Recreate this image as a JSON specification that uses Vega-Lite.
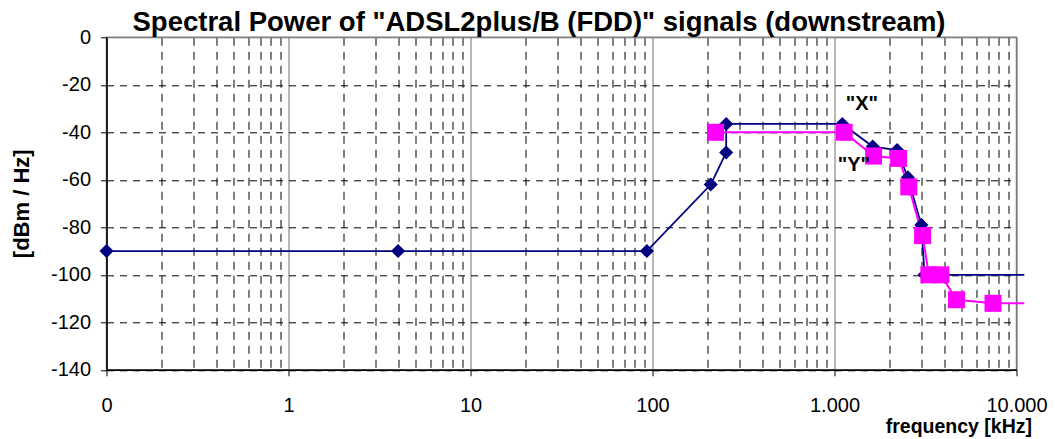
{
  "$schema": "https://vega.github.io/schema/vega-lite/v6.json",
  "width": 910,
  "height": 332.5,
  "autosize": {"type": "none"},
  "padding": {"left": 106.5, "top": 37.3, "right": 38.5, "bottom": 69.2},
  "background": "white",
  "config": {
    "font": "Liberation Sans",
    "view": {"stroke": "#808080", "strokeWidth": 1.5}
  },
  "title": {
    "text": "Spectral Power of \"ADSL2plus/B (FDD)\" signals (downstream)",
    "fontSize": 27.5,
    "fontWeight": "bold",
    "color": "#000000",
    "anchor": "middle",
    "frame": "group",
    "dx": -22.5,
    "baseline": "bottom",
    "offset": -37
  },
  "datasets": {
    "mask": [
      {"series": "X", "idx": 1, "freq": 0.1, "dbm": -90},
      {"series": "X", "idx": 2, "freq": 4, "dbm": -90},
      {"series": "X", "idx": 3, "freq": 93.1, "dbm": -90},
      {"series": "X", "idx": 4, "freq": 209, "dbm": -62},
      {"series": "X", "idx": 5, "freq": 254, "dbm": -48.5},
      {"series": "X", "idx": 6, "freq": 254, "dbm": -36.5},
      {"series": "X", "idx": 7, "freq": 1104, "dbm": -36.5},
      {"series": "X", "idx": 8, "freq": 1622, "dbm": -46},
      {"series": "X", "idx": 9, "freq": 2208, "dbm": -47.5},
      {"series": "X", "idx": 10, "freq": 2530, "dbm": -59},
      {"series": "X", "idx": 11, "freq": 3001, "dbm": -79},
      {"series": "X", "idx": 12, "freq": 3125, "dbm": -100},
      {"series": "X", "idx": 13, "freq": 11040, "dbm": -100},
      {"series": "Y", "idx": 1, "freq": 222, "dbm": -40},
      {"series": "Y", "idx": 2, "freq": 1130, "dbm": -40},
      {"series": "Y", "idx": 3, "freq": 1640, "dbm": -50},
      {"series": "Y", "idx": 4, "freq": 2250, "dbm": -51},
      {"series": "Y", "idx": 5, "freq": 2560, "dbm": -63},
      {"series": "Y", "idx": 6, "freq": 3048, "dbm": -83.5},
      {"series": "Y", "idx": 7, "freq": 3300, "dbm": -100},
      {"series": "Y", "idx": 8, "freq": 3840, "dbm": -100},
      {"series": "Y", "idx": 9, "freq": 4680, "dbm": -110.5},
      {"series": "Y", "idx": 10, "freq": 7430, "dbm": -112},
      {"series": "Y", "idx": 11, "freq": 11040, "dbm": -112}
    ],
    "labels": [
      {"label": "\"X\"", "freq": 1413, "dbm": -28},
      {"label": "\"Y\"", "freq": 1277, "dbm": -53.6}
    ]
  },
  "encoding": {
    "x": {
      "field": "freq",
      "type": "quantitative",
      "scale": {"type": "log", "domain": [0.1, 10000], "nice": false},
      "axis": {
        "title": "frequency [kHz]",
        "titleFontSize": 19.5,
        "titleFontWeight": "bold",
        "titleColor": "#000000",
        "titleAlign": "right",
        "titleBaseline": "middle",
        "titleX": 925,
        "titleY": 57,
        "values": [0.1, 0.2, 0.3, 0.4, 0.5, 0.6, 0.7, 0.8, 0.9, 1, 2, 3, 4, 5, 6, 7, 8, 9, 10, 20, 30, 40, 50, 60, 70, 80, 90, 100, 200, 300, 400, 500, 600, 700, 800, 900, 1000, 2000, 3000, 4000, 5000, 6000, 7000, 8000, 9000, 10000],
        "labelExpr": "datum.value < 0.15 ? '0' : (abs(log(datum.value)/LN10 - round(log(datum.value)/LN10)) < 0.000001 ? replace(format(datum.value, ',.0f'), ',', '.') : '')",
        "labelFontSize": 20,
        "labelColor": "#000000",
        "labelFlush": false,
        "labelOverlap": false,
        "labelPadding": 20,
        "grid": true,
        "gridWidth": 1,
        "gridColor": {"condition": {"test": "abs(log(datum.value)/LN10 - round(log(datum.value)/LN10)) < 0.000001", "value": "#707070"}, "value": "#000000"},
        "gridDash": {"condition": {"test": "abs(log(datum.value)/LN10 - round(log(datum.value)/LN10)) < 0.000001", "value": []}, "value": [8, 6]},
        "tickOpacity": {"condition": {"test": "abs(log(datum.value)/LN10 - round(log(datum.value)/LN10)) < 0.000001", "value": 1}, "value": 0},
        "tickSize": 6,
        "tickColor": "#000000",
        "domainColor": "#000000",
        "domainWidth": 1.5
      }
    },
    "y": {
      "field": "dbm",
      "type": "quantitative",
      "scale": {"domain": [-140, 0], "nice": false},
      "axis": {
        "title": "[dBm / Hz]",
        "titleFontSize": 22,
        "titleFontWeight": "bold",
        "titleColor": "#000000",
        "titleAngle": -90,
        "titleAlign": "center",
        "titleBaseline": "middle",
        "titleX": -85,
        "titleY": 166,
        "values": [-140, -120, -100, -80, -60, -40, -20, 0],
        "labelExpr": "'' + datum.value",
        "labelFontSize": 20,
        "labelColor": "#000000",
        "labelPadding": 10,
        "labelFlush": false,
        "grid": true,
        "gridWidth": 1,
        "gridColor": {"condition": {"test": "datum.value == 0", "value": "#808080"}, "value": "#000000"},
        "gridDash": {"condition": {"test": "datum.value == 0", "value": []}, "value": [7, 6]},
        "tickSize": 6,
        "tickColor": "#000000",
        "domainColor": "#000000",
        "domainWidth": 1.5
      }
    }
  },
  "layer": [
    {
      "data": {"name": "mask"},
      "mark": {"type": "line", "clip": false},
      "encoding": {
        "color": {"field": "series", "type": "nominal", "scale": {"domain": ["X", "Y"], "range": ["#000080", "#FF00FF"]}, "legend": null},
        "strokeWidth": {"field": "series", "type": "nominal", "scale": {"domain": ["X", "Y"], "range": [1.75, 2]}, "legend": null},
        "order": {"field": "idx", "type": "quantitative"}
      }
    },
    {
      "data": {"name": "mask"},
      "transform": [{"filter": "datum.freq <= 10000"}],
      "mark": {"type": "point", "filled": true, "opacity": 1, "clip": false},
      "encoding": {
        "color": {"field": "series", "type": "nominal", "scale": {"domain": ["X", "Y"], "range": ["#000080", "#FF00FF"]}, "legend": null},
        "shape": {"field": "series", "type": "nominal", "scale": {"domain": ["X", "Y"], "range": ["diamond", "square"]}, "legend": null},
        "size": {"field": "series", "type": "nominal", "scale": {"domain": ["X", "Y"], "range": [200, 290]}, "legend": null}
      }
    },
    {
      "data": {"name": "labels"},
      "mark": {"type": "text", "fontSize": 20, "fontWeight": "bold", "color": "#000000", "align": "center", "baseline": "middle"},
      "encoding": {
        "text": {"field": "label", "type": "nominal"}
      }
    }
  ]
}
